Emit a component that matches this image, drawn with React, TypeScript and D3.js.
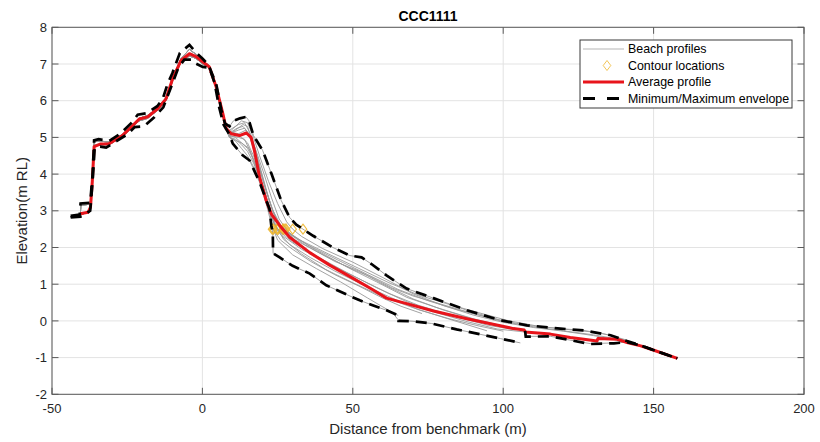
import React from 'react';
import * as d3 from 'd3';

type Pt = [number, number];

const titleText = 'CCC1111';
const xLabel = 'Distance from benchmark (m)';
const yLabel = 'Elevation(m RL)';
const xTicks = [-50, 0, 50, 100, 150, 200];
const yTicks = [-2, -1, 0, 1, 2, 3, 4, 5, 6, 7, 8];
const legendLabels = ['Beach profiles', 'Contour locations', 'Average profile', 'Minimum/Maximum envelope'];
const contourLevel = 2.5;

// shared dune sections of the surveyed profiles
const duneA: Pt[] = [[-43.8, 2.84], [-40.6, 2.88], [-40.4, 3.15], [-37.3, 3.18], [-36.5, 3.9], [-36, 4.88], [-34, 4.9], [-31, 4.87], [-26.6, 5.08], [-21, 5.52], [-18.2, 5.6], [-14.9, 5.8], [-12.1, 6.08], [-9.9, 6.62], [-7.1, 7.15], [-4.3, 7.4], [-2.1, 7.26], [0.1, 7.1], [2.3, 6.95], [4.6, 6.4], [6.8, 5.68], [7.9, 5.28]];
const duneB: Pt[] = [[-43.8, 2.84], [-40.6, 2.87], [-37.3, 3.02], [-36.6, 3.8], [-36, 4.78], [-34, 4.8], [-31, 4.8], [-26.6, 5.02], [-21, 5.45], [-18.2, 5.52], [-14.9, 5.74], [-12.1, 6.0], [-9.9, 6.55], [-7.1, 7.05], [-4.3, 7.22], [-2.1, 7.15], [0.1, 7.0], [2.3, 6.9], [4.6, 6.33], [6.8, 5.6], [7.9, 5.22]];

// beach sections of each profile
const tail1: Pt[] = [[9, 5.3], [10.3, 5.45], [12.5, 5.52], [14.5, 5.56], [15.5, 5.45], [17, 5.05], [20, 4.65], [23, 4.0], [26.2, 3.28], [29, 2.82], [31.2, 2.62], [34, 2.47], [36.8, 2.32], [43.4, 2.0], [49, 1.78], [52.9, 1.73], [56.2, 1.55], [61.2, 1.24], [67.9, 0.88], [76.8, 0.62], [87.9, 0.29], [99, 0.02], [107.9, -0.12], [119, -0.21], [126.8, -0.26], [135.7, -0.39], [141.2, -0.55], [145.7, -0.67], [150.1, -0.8], [157.9, -1.02]];
const tail2: Pt[] = [[9, 5.15], [11, 5.3], [13, 5.45], [15, 5.4], [17, 5.0], [19, 4.5], [22, 3.8], [25, 3.2], [28, 2.7], [30, 2.5], [33, 2.3], [40, 1.97], [50, 1.6], [60, 1.18], [70, 0.74], [80, 0.42], [90, 0.16], [100, -0.04], [110, -0.18], [120, -0.28], [130, -0.4], [141, -0.57]];
const tail3: Pt[] = [[9, 5.1], [11, 5.2], [13.5, 5.35], [15, 5.3], [16.5, 4.9], [18.5, 4.3], [21, 3.6], [23.5, 3.0], [26, 2.62], [30, 2.32], [38, 1.92], [48, 1.47], [58, 1.06], [68, 0.64], [78, 0.36], [90, 0.06], [100, -0.14], [107, -0.26], [107.3, -0.42], [115.7, -0.42], [122, -0.52], [129, -0.62], [136.8, -0.6], [141.2, -0.58]];
const tail4: Pt[] = [[9, 5.05], [12, 5.0], [14, 4.95], [16, 4.6], [18, 4.1], [20, 3.6], [22, 3.1], [24, 2.62], [27, 2.3], [33, 1.95], [42, 1.55], [52, 1.15], [62, 0.75], [72, 0.42], [85, 0.1], [95, -0.12], [104, -0.24]];
const tail5: Pt[] = [[9, 5.0], [11, 4.9], [13, 4.7], [15, 4.5], [17, 4.2], [19.5, 3.7], [21.5, 3.1], [23, 2.62], [25, 2.2], [30, 1.8], [38, 1.42], [46, 1.06], [55, 0.62], [60, 0.38], [63, 0.24], [65.2, 0.02], [70, -0.01], [76.2, -0.07], [84.5, -0.23], [99, -0.48], [105.7, -0.6]];
const tail6: Pt[] = [[9, 5.1], [10.1, 4.83], [13.4, 4.51], [15.7, 4.37], [19, 3.78], [22.3, 3.05], [22.9, 2.6], [23.4, 2.4], [23.5, 1.84], [25.7, 1.73], [30, 1.5], [35.7, 1.29], [41.2, 0.97], [47.9, 0.72], [52.3, 0.56], [56.8, 0.42], [61.2, 0.29], [65.1, 0.15]];
const tail7: Pt[] = [[9, 5.2], [12, 5.35], [14, 5.4], [16, 5.1], [18, 4.6], [20.5, 4.0], [23, 3.35], [25.5, 2.78], [28.5, 2.42], [35, 2.07], [45, 1.66], [55, 1.26], [65, 0.86], [75, 0.55], [85, 0.3], [95, 0.1], [100, 0.0]];
const tail8: Pt[] = [[9, 5.15], [12, 5.1], [14.5, 5.2], [16, 4.95], [18, 4.4], [20, 3.85], [22.5, 3.2], [25, 2.7], [27, 2.48], [34, 2.08], [44, 1.62], [52, 1.36], [60, 1.0], [70, 0.6], [80, 0.3], [90, 0.05], [97, -0.12]];
const tail9: Pt[] = [[9, 5.05], [11, 5.0], [13, 4.85], [15.5, 4.7], [17.5, 4.3], [20, 3.7], [22, 3.2], [24.5, 2.58], [27, 2.22], [33, 1.82], [41, 1.4], [50, 1.04], [60, 0.66], [70, 0.36], [80, 0.1], [94.6, -0.27]];
const tail10: Pt[] = [[9, 5.1], [12, 5.2], [14, 5.25], [15.5, 5.1], [17.5, 4.7], [19.5, 4.1], [21.5, 3.5], [23.5, 2.95], [26.5, 2.52], [31, 2.2], [40, 1.8], [50, 1.4], [56, 1.2], [63, 0.9], [70, 0.68], [80, 0.44], [90, 0.2], [100, -0.02], [110, -0.16], [120, -0.27], [130, -0.38], [140, -0.52], [145.7, -0.67], [150.1, -0.8], [157.9, -1.02]];
const tail11: Pt[] = [[9, 5.0], [11, 4.95], [13, 4.8], [15, 4.62], [17, 4.3], [19.5, 3.82], [21.5, 3.3], [23, 2.82], [25, 2.45], [29, 2.08], [36, 1.72], [44, 1.36], [53, 1.0], [62, 0.66], [72, 0.3], [82, 0.06], [92, -0.14], [100, -0.28]];
const tail12: Pt[] = [[9, 5.12], [11.5, 5.25], [13.5, 5.3], [15, 5.15], [17, 4.75], [19, 4.2], [21, 3.62], [23, 3.1], [25, 2.7], [27.5, 2.47], [32, 2.22], [42, 1.82], [52, 1.43], [62, 1.04], [72, 0.7], [82, 0.45], [92, 0.22], [102, 0.0], [112, -0.15], [122, -0.24], [132, -0.32], [141, -0.52]];
const tail13: Pt[] = [[9, 5.08], [11, 5.1], [13, 5.0], [15, 4.85], [17, 4.5], [19, 4.0], [21, 3.4], [22.5, 2.95], [24, 2.62], [26, 2.42], [30, 2.15], [38, 1.76], [48, 1.32], [58, 0.9], [68, 0.52], [78, 0.22], [88, -0.02], [98, -0.22], [107, -0.3]];
const tail14: Pt[] = [[9, 5.0], [11, 4.92], [13, 4.85], [15, 4.7], [17, 4.4], [19, 3.95], [21, 3.45], [22.5, 2.9], [23.5, 2.5], [26, 2.2], [30, 1.95], [36, 1.62], [44, 1.26], [52, 0.95], [60, 0.62], [66, 0.4], [73, 0.2]];

const profiles: Pt[][] = [
  duneA.concat(tail1), duneB.concat(tail2), duneA.concat(tail3), duneB.concat(tail4),
  duneB.concat(tail5), duneB.concat(tail6), duneA.concat(tail7), duneA.concat(tail8),
  duneB.concat(tail9), duneA.concat(tail10), duneB.concat(tail11), duneA.concat(tail12),
  duneB.concat(tail13), duneA.concat(tail14),
];

const averageProfile: Pt[] = [[-40.6, 2.92], [-38, 2.96], [-37.2, 3.1], [-36.6, 3.8], [-36, 4.75], [-34, 4.82], [-31, 4.83], [-26.6, 5.05], [-21, 5.5], [-18.2, 5.56], [-14.9, 5.78], [-12.1, 6.05], [-9.9, 6.6], [-7.1, 7.1], [-4.3, 7.28], [-2.1, 7.2], [0.1, 7.06], [2.3, 6.92], [4.6, 6.37], [6.8, 5.65], [7.9, 5.24], [9.6, 5.1], [12.3, 5.05], [14.6, 5.12], [16.2, 5.0], [17.3, 4.64], [19, 3.92], [21.2, 3.28], [23, 2.9], [25.7, 2.6], [29, 2.28], [35.7, 1.86], [42.3, 1.52], [50.1, 1.16], [56.8, 0.84], [61.2, 0.62], [67.9, 0.47], [76.8, 0.27], [87.9, 0.06], [99, -0.13], [103.4, -0.21], [107, -0.25], [107.3, -0.3], [115.7, -0.36], [122.3, -0.45], [126.8, -0.5], [131.2, -0.55], [131.5, -0.48], [137.9, -0.5], [141.2, -0.59], [145.7, -0.68], [150.1, -0.8], [157.9, -1.02]];

const maxEnvelope: Pt[] = [[-43.8, 2.86], [-40.8, 2.9], [-40.5, 3.2], [-37.3, 3.22], [-36.5, 4.0], [-36, 4.92], [-34.5, 4.95], [-31, 4.9], [-27, 5.12], [-23.5, 5.4], [-21.5, 5.62], [-18.5, 5.66], [-15, 5.85], [-13.2, 6.05], [-11.6, 6.45], [-10, 6.75], [-7.5, 7.3], [-4.3, 7.52], [-2, 7.3], [0, 7.15], [2, 6.98], [4.6, 6.45], [6.3, 5.75], [7.5, 5.38], [9, 5.3], [10.3, 5.45], [12.5, 5.52], [14.5, 5.56], [15.5, 5.45], [17, 5.05], [20, 4.65], [23, 4.0], [26.2, 3.28], [29, 2.82], [31.2, 2.62], [36.8, 2.32], [43.4, 2.0], [49, 1.78], [52.9, 1.73], [56.2, 1.55], [61.2, 1.24], [67.9, 0.88], [76.8, 0.62], [87.9, 0.29], [99, 0.02], [107.9, -0.12], [119, -0.21], [126.8, -0.26], [135.7, -0.39], [141.2, -0.55], [145.7, -0.67], [150.1, -0.8], [157.9, -1.02]];
const minEnvelopeA: Pt[] = [[-43.8, 2.82], [-40.5, 2.84], [-37.3, 3.0], [-36.5, 3.8], [-35.8, 4.72], [-34, 4.75], [-32, 4.72], [-29, 4.88], [-25, 5.08], [-22.5, 5.28], [-19.5, 5.3], [-16, 5.55], [-13, 5.82], [-10.5, 6.35], [-8, 6.9], [-6, 7.12], [-3.5, 7.12], [-2.1, 7.01], [0.1, 6.92], [2.3, 6.9], [4, 6.5], [5.5, 5.85], [7, 5.35], [9, 5.08], [10.1, 4.83], [13.4, 4.51], [15.7, 4.37], [19, 3.78], [22.3, 3.05], [22.9, 2.6], [23.4, 2.4], [23.5, 1.84], [25.7, 1.73], [30, 1.5], [35.7, 1.29], [41.2, 0.97], [47.9, 0.72], [52.3, 0.56], [56.8, 0.42], [61.2, 0.29], [65.1, 0.15], [65.2, 0.0], [70, -0.01], [76.2, -0.07], [84.5, -0.23], [99, -0.48], [105.7, -0.6]];
const minEnvelopeB: Pt[] = [[107.3, -0.27], [107.5, -0.43], [115.7, -0.42], [122, -0.52], [129, -0.63], [136.8, -0.61], [141.2, -0.58], [145.7, -0.67], [150.1, -0.8], [157.9, -1.02]];

const FONT = "'Liberation Sans', Arial, Helvetica, sans-serif";
const DIAMOND = 'M0,-5L3.8,0L0,5L-3.8,0Z';

function contourCrossing(p: Pt[], level: number): Pt | null {
  for (let i = 1; i < p.length; i++) {
    const [x0, y0] = p[i - 1];
    const [x1, y1] = p[i];
    if (y0 >= level && y1 < level) {
      const t = (y0 - level) / (y0 - y1);
      return [x0 + t * (x1 - x0), level];
    }
  }
  return null;
}

export default function App() {
  const W = 820, H = 442;
  const left = 52, right = 804, top = 27.3, bottom = 394.3;
  const x = d3.scaleLinear().domain([-50, 200]).range([left, right]);
  const y = d3.scaleLinear().domain([-2, 8]).range([bottom, top]);
  const line = d3.line<Pt>().x(d => x(d[0])).y(d => y(d[1]));
  const contours = profiles.map(p => contourCrossing(p, contourLevel)).filter(Boolean) as Pt[];
  const tickLen = 6.5;
  const axisColor = '#262626';
  const dash = '11,7';

  const lgX = 580, lgY = 40, lgW = 212, lgH = 68;
  const rows = [49, 65.5, 82, 98.5];

  return (
    <svg width={W} height={H} style={{ position: 'absolute', left: 0, top: 0, background: '#fff' }} fontFamily={FONT}>
      <rect x={0} y={0} width={W} height={H} fill="#fff" />
      {/* grid */}
      {xTicks.map(t => (
        <line key={'gx' + t} x1={x(t)} x2={x(t)} y1={top} y2={bottom} stroke="#e3e3e3" strokeWidth={1} />
      ))}
      {yTicks.map(t => (
        <line key={'gy' + t} x1={left} x2={right} y1={y(t)} y2={y(t)} stroke="#e3e3e3" strokeWidth={1} />
      ))}
      {/* profiles */}
      <g fill="none" stroke="#999999" strokeWidth={0.9} strokeLinejoin="round">
        {profiles.map((p, i) => <path key={'p' + i} d={line(p) || ''} />)}
      </g>
      {/* contour locations */}
      <g fill="none" stroke="#EDB120" strokeWidth={1.1} opacity={0.85}>
        {contours.map((c, i) => (
          <path key={'c' + i} d={DIAMOND} transform={`translate(${x(c[0])},${y(c[1])})`} />
        ))}
      </g>
      {/* average */}
      <path d={line(averageProfile) || ''} fill="none" stroke="#e8141b" strokeWidth={3} strokeLinejoin="round" />
      {/* envelopes */}
      <g fill="none" stroke="#000" strokeWidth={2.7} strokeDasharray={dash}>
        <path d={line(maxEnvelope) || ''} />
        <path d={line(minEnvelopeA) || ''} />
        <path d={line(minEnvelopeB) || ''} />
      </g>
      {/* axes box */}
      <rect x={left} y={top} width={right - left} height={bottom - top} fill="none" stroke="#5a5a5a" strokeWidth={1} />
      {xTicks.map(t => (
        <g key={'tx' + t}>
          <line x1={x(t)} x2={x(t)} y1={bottom} y2={bottom - tickLen} stroke="#5a5a5a" />
          <line x1={x(t)} x2={x(t)} y1={top} y2={top + tickLen} stroke="#5a5a5a" />
          <text x={x(t)} y={bottom + 19} fontSize={13} textAnchor="middle" fill={axisColor}>{t}</text>
        </g>
      ))}
      {yTicks.map(t => (
        <g key={'ty' + t}>
          <line x1={left} x2={left + tickLen} y1={y(t)} y2={y(t)} stroke="#5a5a5a" />
          <line x1={right} x2={right - tickLen} y1={y(t)} y2={y(t)} stroke="#5a5a5a" />
          <text x={left - 5} y={y(t) + 4.6} fontSize={13} textAnchor="end" fill={axisColor}>{t}</text>
        </g>
      ))}
      <text x={(left + right) / 2} y={21} fontSize={14} fontWeight="bold" textAnchor="middle" fill="#000">{titleText}</text>
      <text x={(left + right) / 2} y={434} fontSize={15} textAnchor="middle" fill={axisColor}>{xLabel}</text>
      <text transform={`translate(26.5,${(top + bottom) / 2}) rotate(-90)`} fontSize={15} textAnchor="middle" fill={axisColor}>{yLabel}</text>
      {/* legend */}
      <rect x={lgX} y={lgY} width={lgW} height={lgH} fill="#fff" stroke="#3a3a3a" strokeWidth={1} />
      <line x1={583} x2={624} y1={rows[0]} y2={rows[0]} stroke="#b5b5b5" strokeWidth={1} />
      <path d={DIAMOND} transform={`translate(607,${rows[1]})`} fill="none" stroke="#EDB120" opacity={0.75} />
      <line x1={583} x2={624} y1={rows[2]} y2={rows[2]} stroke="#e8141b" strokeWidth={2.8} />
      <line x1={583} x2={620} y1={rows[3]} y2={rows[3]} stroke="#000" strokeWidth={2.8} strokeDasharray="12,12" />
      {legendLabels.map((l, i) => (
        <text key={l} x={628} y={rows[i] + 4.4} fontSize={12.4} fill="#000">{l}</text>
      ))}
    </svg>
  );
}
